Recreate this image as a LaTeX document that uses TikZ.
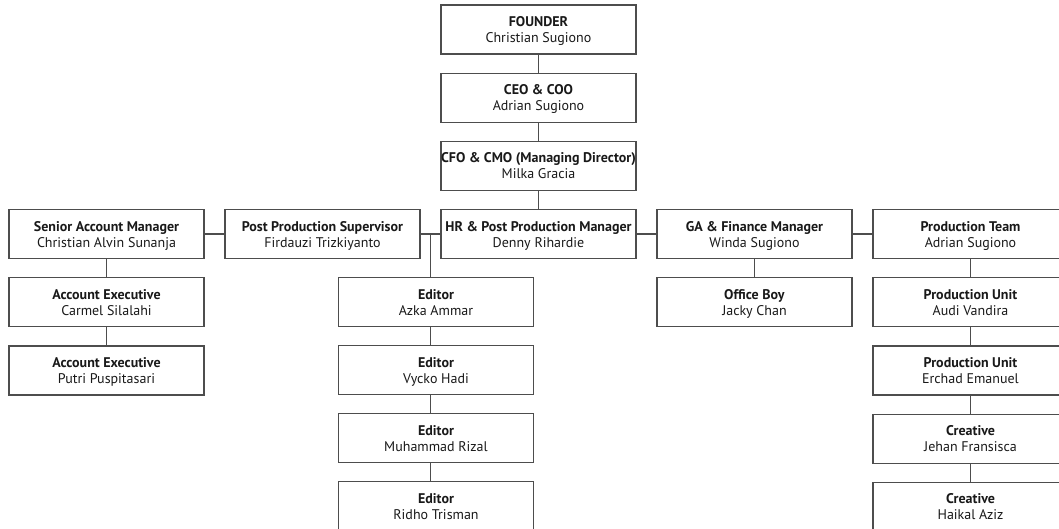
\documentclass[tikz,border=0pt]{standalone}
\usepackage{fontspec}
\setmainfont{PT Sans}
\usepackage{tikz}
\usetikzlibrary{positioning, calc}
\definecolor{linegray}{HTML}{4D4D4D}
\newcommand{\role}[2]{\textbf{#1}\\#2}

\begin{document}
\begin{tikzpicture}[x=1pt, y=-1pt,
    box/.style={draw=linegray, line width=1.2pt, minimum width=195pt, minimum height=49pt,
        inner xsep=0pt, inner ysep=2pt, outer sep=0pt, align=center, text=black!90,
        text depth=0pt, font=\fontsize{14}{16}\selectfont},
    link/.style={draw=linegray, line width=1.2pt}]
    \useasboundingbox (0,0) rectangle (1059,529);
    \matrix (m) [row sep=18pt, column sep=19.8pt, anchor=north west, inner sep=0pt, outer sep=0pt] at (8.4,4.4)
    {%
        & & \node[box] (founder) {\role{FOUNDER}{Christian Sugiono}}; & & \\
        & & \node[box] (ceo) {\role{CEO \& COO}{Adrian Sugiono}}; & & \\
        & & \node[box] (cfo) {\role{CFO \& CMO (Managing Director)}{Milka Gracia}}; & & \\
        \node[box] (sam) {\role{Senior Account Manager}{Christian Alvin Sunanja}}; &
        \node[box] (pps) {\role{Post Production Supervisor}{Firdauzi Trizkiyanto}}; &
        \node[box] (hr) {\role{HR \& Post Production Manager}{Denny Rihardie}}; &
        \node[box] (ga) {\role{GA \& Finance Manager}{Winda Sugiono}}; &
        \node[box] (pt) {\role{Production Team}{Adrian Sugiono}}; \\
        \node[box] (ae1) {\role{Account Executive}{Carmel Silalahi}}; & & &
        \node[box] (ob) {\role{Office Boy}{Jacky Chan}}; &
        \node[box] (pu1) {\role{Production Unit}{Audi Vandira}}; \\
        \node[box] (ae2) {\role{Account Executive}{Putri Puspitasari}}; & & & &
        \node[box] (pu2) {\role{Production Unit}{Erchad Emanuel}}; \\
        & & & & \node[box] (cr1) {\role{Creative}{Jehan Fransisca}}; \\
        & & & & \node[box] (cr2) {\role{Creative}{Haikal Aziz}}; \\
    };
    % editors hang off the supervisor/manager link
    \coordinate (j) at ($(pps.east)!.5!(hr.west)$);
    \node[box, below=19pt of hr.south west, xshift=-5pt] (ed1) {\role{Editor}{Azka Ammar}};
    \node[box, below=19pt of ed1] (ed2) {\role{Editor}{Vycko Hadi}};
    \node[box, below=19pt of ed2] (ed3) {\role{Editor}{Muhammad Rizal}};
    \node[box, below=19pt of ed3] (ed4) {\role{Editor}{Ridho Trisman}};

    \draw[link] (founder) -- (ceo) -- (cfo) -- (hr);
    \draw[link] (sam) -- (pps) -- (hr) -- (ga) -- (pt);
    \draw[link] (sam) -- (ae1) -- (ae2);
    \draw[link] (ga) -- (ob);
    \draw[link] (pt) -- (pu1) -- (pu2) -- (cr1) -- (cr2);
    \draw[link] (j) -- (j |- ed1.north);
    \draw[link] (ed1.south -| j) -- (ed2.north -| j);
    \draw[link] (ed2.south -| j) -- (ed3.north -| j);
    \draw[link] (ed3.south -| j) -- (ed4.north -| j);
\end{tikzpicture}
\end{document}
